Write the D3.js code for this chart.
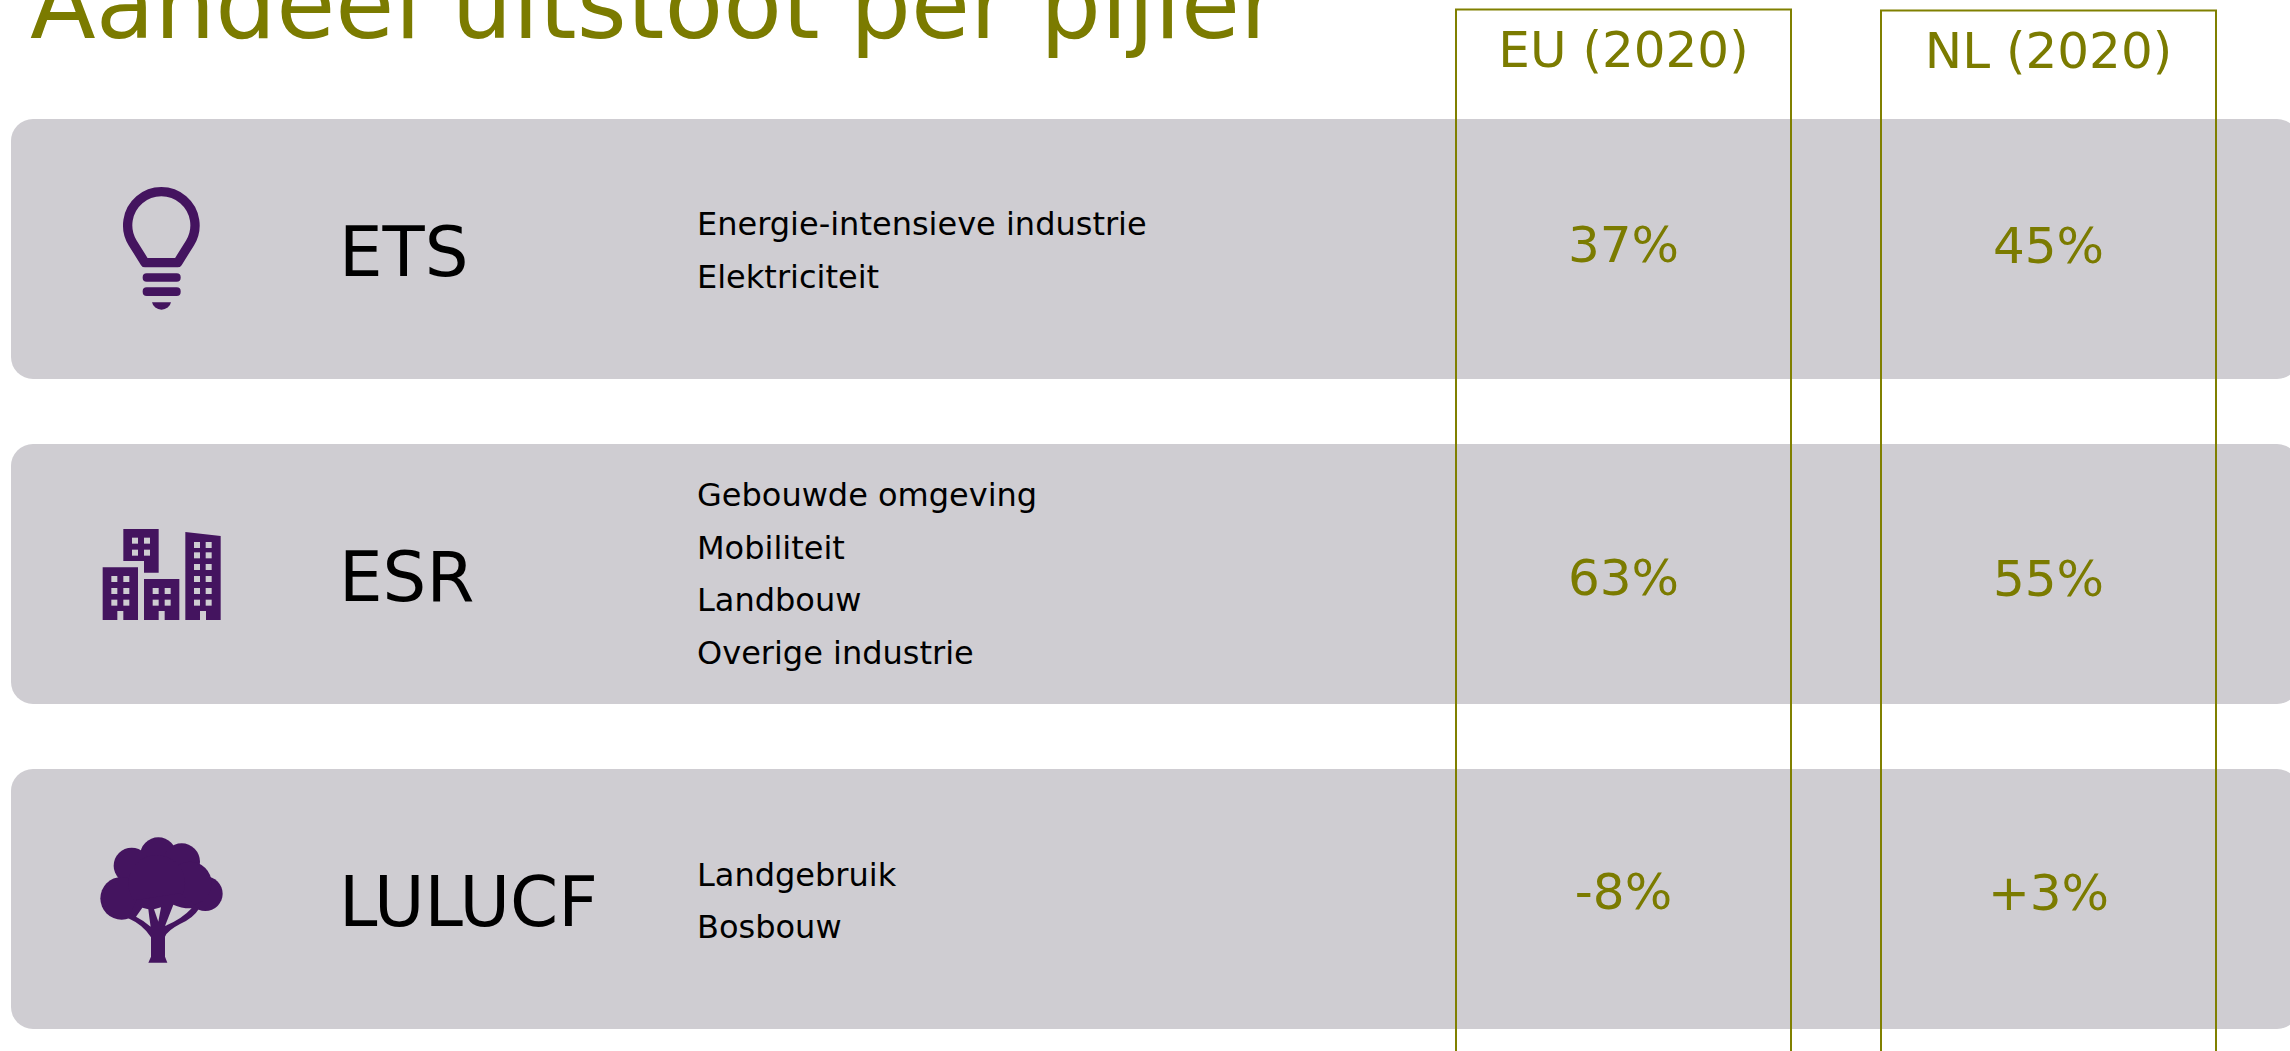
<!DOCTYPE html>
<html>
<head>
<meta charset="utf-8">
<script src="https://cdn.jsdelivr.net/npm/d3@7"></script>
<style>
  html,body{margin:0;padding:0;background:#fff;overflow:hidden;}
  text{font-family:"DejaVu Sans",sans-serif;}
</style>
</head>
<body>
<div id="chart"></div>
<script>
// data
const title='Aandeel uitstoot per pijler';
const pillars=['ETS','ESR','LULUCF'];
const sectors=[
    ['Energie-intensieve industrie','Elektriciteit'],
    ['Gebouwde omgeving','Mobiliteit','Landbouw','Overige industrie'],
    ['Landgebruik','Bosbouw']
];
const columns=['EU (2020)','NL (2020)'];
const euShare=['37%','63%','-8%'];
const nlShare=['45%','55%','+3%'];

const width=2290,height=1051;
const olive='#7b7b00',boxLine='#808000',band='#cfcdd2',purple='#44145f';

// the source text boxes are not quite centred in their rows
const lineShift=[12.5,11,13];
const shareShift=[13,21,10];

const svg=d3.select('#chart').append('svg').attr('width',width).attr('height',height);

// rows and columns
const y=d3.scaleBand().domain(pillars).range([119,1029]).paddingInner(0.2);
const x=d3.scaleBand().domain(columns).range([1456,2216]).paddingInner(90/425);

svg.append('text').attr('x',30).attr('y',38).attr('font-size',96).attr('fill',olive).text(title);

// bands run just past the right edge of the page
svg.selectAll('rect.band').data(pillars).enter().append('rect')
    .attr('class','band')
    .attr('x',11).attr('y',d=>y(d))
    .attr('width',2299-11).attr('height',y.bandwidth())
    .attr('rx',22).attr('fill',band);

pillars.forEach((p,i)=>{
    let cy=y(p)+y.bandwidth()/2;
    svg.append('text').attr('x',339).attr('y',cy+27).attr('font-size',69).attr('fill','#000').text(p);
    let lines=sectors[i];
    lines.forEach((s,j)=>{
        svg.append('text').attr('x',697)
            .attr('y',cy+(j-(lines.length-1)/2)*52.5+lineShift[i])
            .attr('font-size',32).attr('fill','#000').text(s);
    });
    [euShare,nlShare].forEach((vals,k)=>{
        svg.append('text').attr('x',x(columns[k])+x.bandwidth()/2).attr('y',cy+shareShift[i]+k)
            .attr('text-anchor','middle').attr('font-size',50).attr('fill',olive).text(vals[i]);
    });
});

columns.forEach((c,k)=>{
    let top=k==0?9.5:10.5;
    svg.append('rect').attr('x',x(c)).attr('y',top)
        .attr('width',x.bandwidth()).attr('height',height+20)
        .attr('fill','none').attr('stroke',boxLine).attr('stroke-width',2);
    svg.append('text').attr('x',x(c)+x.bandwidth()/2).attr('y',top+57.5)
        .attr('text-anchor','middle').attr('font-size',50).attr('fill',olive).text(c);
});

// icons, drawn in the 3x units they were measured in
function icon(ox,oy){
    return svg.append('g').attr('transform',`translate(${ox},${oy}) scale(${1/3})`);
}
// bulb
let g=icon(80,170);
g.append('path').attr('fill','none').attr('stroke',purple).attr('stroke-width',28).attr('stroke-linejoin','round')
    .attr('d','M195,278 L293,278 L330,219 A101,101 0 1 0 158,219 Z');
g.append('rect').attr('x',188).attr('y',310).attr('width',114).attr('height',25).attr('rx',12).attr('fill',purple);
g.append('rect').attr('x',188).attr('y',352).attr('width',114).attr('height',26).attr('rx',12).attr('fill',purple);
g.append('path').attr('fill',purple).attr('d','M216,397 L273,397 A29,27 0 0 1 216,397 Z');

// buildings
g=icon(80,510);
g.append('path').attr('fill',purple).attr('d',
    'M130,57H236V188H192V153H130Z '+
    'M68,172H174V330H130V303H112V330H68Z '+
    'M192,207H298V330H254V303H236V330H192Z '+
    'M316,66L422,78V330H378V303H360V330H316Z');
const windows=[
    [156,83],[192,83],[156,119],[192,119],
    [94,198],[130,198],[94,234],[130,234],[94,269],[130,269],
    [218,234],[254,234],[218,269],[254,269],
    [342,96],[377,96],[342,127],[377,127],[342,162],[377,162],
    [342,198],[377,198],[342,234],[377,234],[342,269],[377,269]
];
g.selectAll('rect').data(windows).enter().append('rect')
    .attr('x',d=>d[0]).attr('y',d=>d[1]).attr('width',18).attr('height',18).attr('fill',band);

// tree
g=icon(80,820);
const crown=[[235,107,55],[155,137,54],[305,125,55],[125,235,64],[376,221,52],[330,190,65],[230,190,85]];
g.selectAll('circle').data(crown).enter().append('circle')
    .attr('cx',d=>d[0]).attr('cy',d=>d[1]).attr('r',d=>d[2]).attr('fill',purple);
g.append('path').attr('fill',purple).attr('d','M145,295 Q190,315 213,352 L213,410 L205,428 L262,428 L255,410 L255,350 Q262,332 300,312 Q340,295 358,265 L300,220 L170,240 Z');
g.append('path').attr('fill',band).attr('d','M168,290 L187,263 L205,268 Q208,295 212,320 Q192,302 168,290 Z');
g.append('path').attr('fill',band).attr('d','M222,268 L243,262 L235,305 Z');
g.append('path').attr('fill',band).attr('d','M255,318 L280,254 Q305,266 335,265 Q305,298 255,318 Z');
</script>
</body>
</html>
